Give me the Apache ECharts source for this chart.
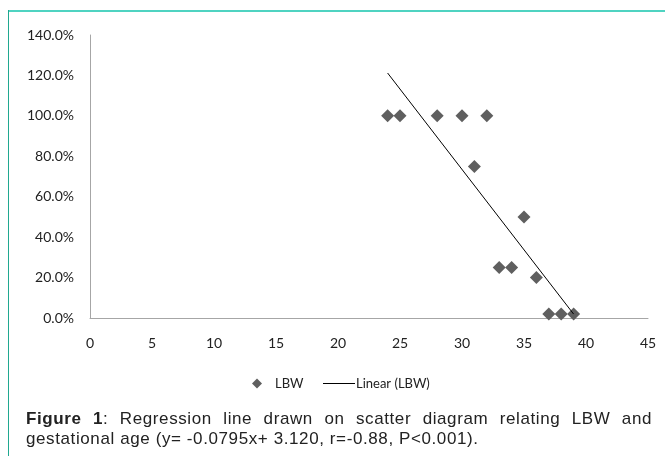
<!DOCTYPE html>
<html>
<head>
<meta charset="utf-8">
<script src="https://cdn.jsdelivr.net/npm/echarts@6/dist/echarts.min.js"></script>
<style>
  html, body { margin: 0; padding: 0; background: #fff; }
  #wrap { position: relative; width: 665px; height: 456px; overflow: hidden; }
  #chart { position: absolute; left: 0; top: 0; width: 665px; height: 456px; }
  #caption {
    position: absolute; left: 26px; top: 409px; width: 626px;
    font-family: "Liberation Sans", Arial, sans-serif; font-size: 17px; line-height: 20px;
    letter-spacing: 0.6px; color: #222; text-align: justify;
  }
</style>
</head>
<body>
<div id="wrap">
  <div id="chart"></div>
  <div id="caption"><b>Figure 1</b>: Regression line drawn on scatter diagram relating LBW and gestational age (y= -0.0795x+ 3.120, r=-0.88, P&lt;0.001).</div>
</div>
<script>
  // gestational age (weeks) vs LBW share
  const ageWeeks = [24, 25, 28, 30, 32, 31, 35, 33, 34, 36, 37, 38, 39];
  const lbwShare = [1.00, 1.00, 1.00, 1.00, 1.00, 0.75, 0.50, 0.25, 0.25, 0.20, 0.02, 0.02, 0.02];
  // trendline end points as drawn (x = 24 .. 39)
  const trendX = [24, 39];
  const trendY = [1.212, 0.0195];
  const xTicks = [0, 5, 10, 15, 20, 25, 30, 35, 40, 45];
  const yTicks = [0, 0.2, 0.4, 0.6, 0.8, 1.0, 1.2, 1.4];

  const chart = echarts.init(document.getElementById("chart"), null, { renderer: "canvas" });
  const labelFont = "Lato, 'Open Sans', sans-serif";
  const axisGray = "#a6a6a6";
  const markGray = "#5f5f5f";
  const legendText = { color: "#222", fontFamily: labelFont, fontSize: 13, padding: [0, 0, 0, 2] };

  chart.setOption({
    animation: false,
    grid: { left: 90, right: 17, top: 35, bottom: 138 },
    graphic: [
      { type: "line", shape: { x1: 8, y1: 11, x2: 665, y2: 11 }, style: { stroke: "#4fd3c1", lineWidth: 2 } },
      { type: "line", shape: { x1: 8.5, y1: 10, x2: 8.5, y2: 456 }, style: { stroke: "#20a890", lineWidth: 1 } },
    ],
    legend: [
      {
        left: 252, top: 377, padding: 0, itemGap: 0,
        icon: "diamond", itemWidth: 10, itemHeight: 10,
        textStyle: Object.assign({}, legendText, { padding: [0, 0, 0, 8] }),
        data: [{ name: "LBW", itemStyle: { color: markGray } }],
      },
      {
        left: 323, top: 377, padding: 0, itemGap: 0,
        icon: "rect", itemWidth: 32, itemHeight: 1,
        textStyle: Object.assign({}, legendText, { padding: [0, 0, 0, -4] }),
        data: [{ name: "Linear (LBW)", itemStyle: { color: "#000" } }],
      },
    ],
    xAxis: {
      type: "value", min: xTicks[0], max: xTicks[xTicks.length - 1], interval: 5,
      axisLine: { show: true, lineStyle: { color: axisGray } },
      axisTick: { show: false },
      splitLine: { show: false },
      axisLabel: { color: "#222", fontFamily: labelFont, fontSize: 14, margin: 18 },
    },
    yAxis: {
      type: "value", min: yTicks[0], max: yTicks[yTicks.length - 1], interval: 0.2,
      axisLine: { show: true, lineStyle: { color: axisGray } },
      axisTick: { show: false },
      splitLine: { show: false },
      axisLabel: {
        color: "#222", fontFamily: labelFont, fontSize: 14, margin: 16,
        formatter: function (v) { return (v * 100).toFixed(1) + "%"; },
      },
    },
    series: [
      {
        name: "Linear (LBW)", type: "line",
        data: trendX.map(function (x, i) { return [x, trendY[i]]; }),
        symbol: "none", lineStyle: { color: "#000", width: 1 }, itemStyle: { color: "#000" }, z: 3,
      },
      {
        name: "LBW", type: "scatter",
        data: ageWeeks.map(function (x, i) { return [x, lbwShare[i]]; }),
        symbol: "diamond", symbolSize: 13,
        itemStyle: { color: markGray, opacity: 1 }, z: 2,
      },
    ],
  });
</script>
</body>
</html>
